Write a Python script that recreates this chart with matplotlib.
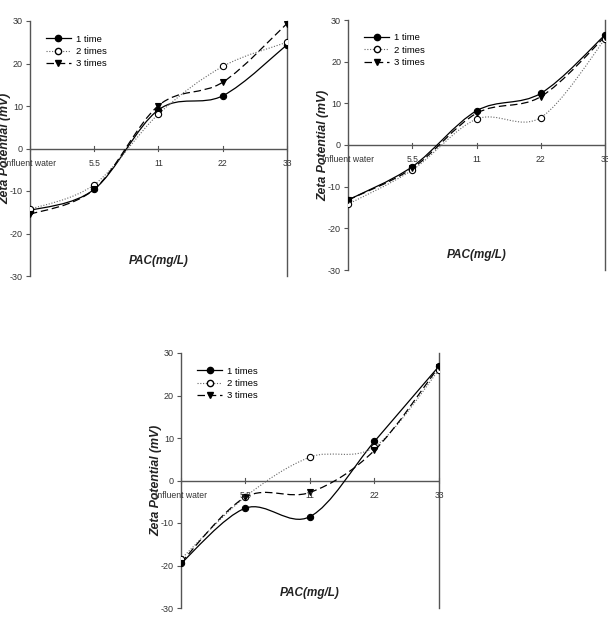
import numpy as np
import matplotlib
matplotlib.use("Agg")
import matplotlib.pyplot as plt
from matplotlib.path import Path
from matplotlib.patches import PathPatch
from matplotlib.lines import Line2D

plt.rcParams.update({'font.size': 7, 'font.family': ['Liberation Sans', 'DejaVu Sans'],
                     'axes.unicode_minus': False})

categories = ["Influent water", "5.5", "11", "22", "33"]

# panel A
a_1 = [-14.6, -9.6, 9.1, 12.4, 24.4]
a_2 = [-14.3, -8.5, 8.1, 19.3, 25.0]
a_3 = [-15.5, -9.6, 10.1, 15.6, 29.4]
# panel B
b_1 = [-13.2, -5.2, 8.2, 12.4, 26.4]
b_2 = [-14.2, -6.0, 6.2, 6.6, 25.4]
b_3 = [-13.2, -5.6, 7.6, 11.6, 26.0]
# panel C
c_1 = [-19.5, -6.5, -8.5, 9.2, 26.9]
c_2 = [-18.5, -3.8, 5.5, 7.9, 26.0]
c_3 = [-19.3, -3.9, -2.8, 7.1, 26.8]

labels_ab = ["1 time", "2 times", "3 times"]
labels_c = ["1 times", "2 times", "3 times"]

AX = "#555555"
styles = [dict(ls='-', color='black', lw=0.9, marker='o', mfc='black', mec='black'),
          dict(ls=(0, (1, 1.5)), color='#666666', lw=0.8, marker='o', mfc='white', mec='black'),
          dict(ls=(0, (6, 3)), color='black', lw=0.9, marker='v', mfc='black', mec='black')]


def smooth_path(xs, ys):
    # excel-style smoothed line as cubic bezier segments
    pts = np.column_stack([xs, ys]).astype(float)
    n = len(pts)
    verts = [pts[0]]
    codes = [Path.MOVETO]
    for i in range(n - 1):
        p0 = pts[max(i - 1, 0)]
        p1 = pts[i]
        p2 = pts[i + 1]
        p3 = pts[min(i + 2, n - 1)]
        verts += [p1 + (p2 - p0) / 6, p2 - (p3 - p1) / 6, p2]
        codes += [Path.CURVE4] * 3
    return Path(verts, codes)


def panel(rect, series, labels):
    ax = fig.add_axes(rect)
    x = np.arange(len(categories))
    for ys, st in zip(series, styles):
        ax.add_patch(PathPatch(smooth_path(x, ys), fill=False, edgecolor=st['color'],
                               lw=st['lw'], linestyle=st['ls'], zorder=2))
        ax.plot(x, ys, ls='none', marker=st['marker'], ms=4.5, mfc=st['mfc'],
                mec=st['mec'], mew=0.8, zorder=3)
    ax.set_xlim(0, 4)
    ax.set_ylim(-30, 30)
    ax.set_yticks([-30, -20, -10, 0, 10, 20, 30])
    ax.tick_params(axis='y', direction='out', length=3, width=0.8, color=AX,
                   labelsize=6.5, pad=2, labelcolor='#333333')
    ax.set_xticks([])
    for s in ['top', 'bottom']:
        ax.spines[s].set_visible(False)
    for s in ['left', 'right']:
        ax.spines[s].set_color(AX)
        ax.spines[s].set_linewidth(1.0)
    ax.axhline(0, color=AX, lw=1.0, zorder=1)
    for xi, lab in zip(x, categories):
        ax.plot([xi, xi], [-0.6, 0.6], color=AX, lw=0.8, clip_on=False)
        ax.text(xi, -3.6, lab, ha='center', va='center', fontsize=6.2, color='#333333')
    ax.text(2, -26.5, "PAC(mg/L)", ha='center', va='center', fontsize=8.5,
            fontweight='bold', style='italic', color='#222222')
    ax.set_ylabel("Zeta Potential (mV)", fontsize=8.8,
                  fontweight='bold', style='italic', color='#222222')
    ax.yaxis.set_label_coords(-0.072, 0.5)
    handles = [Line2D([], [], ls=st['ls'], color=st['color'], lw=st['lw'],
                      marker=st['marker'], ms=4.5, mfc=st['mfc'], mec=st['mec'])
               for st in styles]
    ax.legend(handles, labels, loc='upper left', bbox_to_anchor=(0.03, 0.98),
              frameon=False, fontsize=6.8, handlelength=2.6, labelspacing=0.35,
              handletextpad=0.6)
    ax.patch.set_alpha(0)
    return ax


fig = plt.figure(figsize=(6.08, 6.25), dpi=100)
fig.patch.set_facecolor('white')

panel([0.0493, 0.5584, 0.4227, 0.408], [a_1, a_2, a_3], labels_ab)
panel([0.5724, 0.568, 0.4227, 0.400], [b_1, b_2, b_3], labels_ab)
panel([0.2977, 0.0272, 0.4243, 0.408], [c_1, c_2, c_3], labels_c)

fig.savefig("out.png", dpi=100, facecolor='white')
